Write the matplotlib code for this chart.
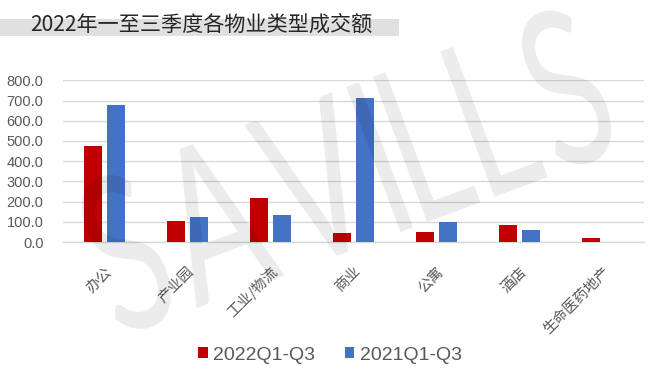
import matplotlib
matplotlib.use("Agg")
import matplotlib.pyplot as plt
from matplotlib.patches import Rectangle, PathPatch
from matplotlib.textpath import TextPath
from matplotlib.font_manager import FontProperties
from matplotlib.transforms import Affine2D
from matplotlib.path import Path
import numpy as np

categories = ["办公", "产业园", "工业/物流", "商业", "公寓", "酒店", "生命医药地产"]
series_names = ["2022Q1-Q3", "2021Q1-Q3"]
values_2022 = [477, 105, 219, 43, 51, 84, 18]
values_2021 = [678, 122, 135, 714, 97, 59, 0]
yticks = [0, 100, 200, 300, 400, 500, 600, 700, 800]
title = "2022年一至三季度各物业类型成交额"
watermark = "SAVILLS"

RED = "#C00000"
BLUE = "#4472C4"
GRAY_TXT = "#595959"
CJK = ["Noto Sans CJK SC", "DejaVu Sans"]
NUM = ["Liberation Sans", "DejaVu Sans"]

W, H = 656, 375
fig = plt.figure(figsize=(W / 100, H / 100), dpi=100)
fig.patch.set_facecolor("white")

# title band
fig.add_artist(Rectangle((0, 1 - 35.7 / H), 399 / W, 16.4 / H, transform=fig.transFigure,
                         facecolor="#e0e0e0", edgecolor="none", zorder=0))
fig.text(30 / W, 1 - 31 / H, title, family=CJK, fontsize=15.2, color="#262626",
         ha="left", va="baseline", zorder=2)

ax = fig.add_axes([63 / W, 1 - 242 / H, (644 - 63) / W, (242 - 80.3) / H])
ax.set_facecolor("none")
x = np.arange(len(categories))
bw = 0.217
off = 0.141
b1 = ax.bar(x - off, values_2022, bw, color=RED, label=series_names[0], zorder=3)
b2 = ax.bar(x + off, values_2021, bw, color=BLUE, label=series_names[1], zorder=3)

ax.set_xlim(-0.5, len(categories) - 0.5)
ax.set_ylim(0, 800)
ax.set_yticks(yticks)
ax.set_yticklabels([f"{v:.1f}" for v in yticks], family=NUM, fontsize=10.5, color=GRAY_TXT)
ax.yaxis.grid(True, color="#d9d9d9", linewidth=1.0, zorder=0)
ax.set_axisbelow(True)
for s in ["top", "right", "left"]:
    ax.spines[s].set_visible(False)
ax.spines["bottom"].set_color("#d9d9d9")
ax.spines["bottom"].set_linewidth(1.0)
ax.spines["bottom"].set_zorder(1)
ax.tick_params(axis="y", length=0, pad=14)
ax.tick_params(axis="x", length=0, pad=16)
ax.set_xticks(x)
ax.set_xticklabels(categories, family=CJK, fontsize=10.5, color=GRAY_TXT,
                   rotation=45, ha="right", rotation_mode="anchor")

# legend
leg = fig.legend(handles=[b1, b2], labels=series_names, loc="center",
                 bbox_to_anchor=(330 / W, 1 - 355 / H), ncol=2, frameon=False,
                 prop={"family": NUM, "size": 14}, handlelength=0.5, handleheight=0.5,
                 handletextpad=0.3, columnspacing=1.5)
for t in leg.get_texts():
    t.set_color(GRAY_TXT)

# watermark: letters laid out one by one with extra tracking, then rotated
fp = FontProperties(family=["Lato", "DejaVu Sans"], weight="normal")
cap = TextPath((0, 0), "L", size=100, prop=fp).get_extents().height
target_cap = 155.0
target_width = 535.0
gap = 15.0
sy = target_cap / cap
glyphs = [TextPath((0, 0), ch, size=100, prop=fp) for ch in watermark]
ink = [g.get_extents() for g in glyphs]
sx = (target_width - gap * (len(glyphs) - 1)) / sum(b.width for b in ink)
paths = []
pos = 0.0
for g, b in zip(glyphs, ink):
    t = Affine2D().translate(-b.x0, 0).scale(sx, sy).translate(pos, 0)
    paths.append(t.transform_path(g))
    pos += b.width * sx + gap
word = Path.make_compound_path(*paths)
cx, cy = 345, H - 170
tr = (Affine2D().translate(-pos / 2 + gap / 2, -target_cap / 2)
      .rotate_deg(20.5).translate(cx, cy))
wm = PathPatch(tr.transform_path(word), facecolor="black", edgecolor="none", alpha=0.075,
               transform=Affine2D(), zorder=10)
fig.add_artist(wm)

fig.savefig("out.png", dpi=100, facecolor="white")
